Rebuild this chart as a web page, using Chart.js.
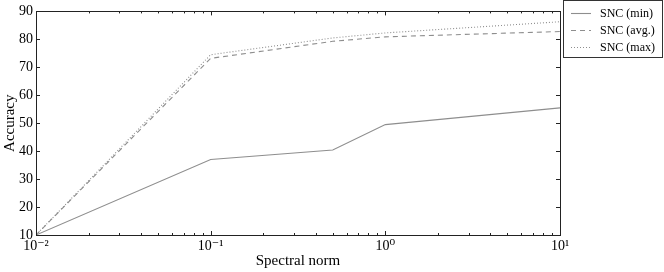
<!DOCTYPE html>
<html>
<head>
<meta charset="utf-8">
<script src="https://cdn.jsdelivr.net/npm/chart.js@4/dist/chart.umd.min.js"></script>
<style>
  html, body { margin: 0; padding: 0; background: #fff; }
  #wrap { width: 664px; height: 272px; }
</style>
</head>
<body>
<div id="wrap"><canvas id="chart" width="664" height="272"></canvas></div>
<script>
// values
const spectralNorm = [0.01, 0.1, 0.5, 1, 10];
const sncMin = [10, 37, 40.4, 49.5, 55.5];
const sncAvg = [10, 73.2, 79.3, 80.9, 82.8];
const sncMax = [10, 74.5, 80.5, 82.3, 86.3];
const seriesNames = ['SNC (min)', 'SNC (avg.)', 'SNC (max)'];
const xDecades = [0.01, 0.1, 1, 10];
const xTickLabels = ['10⁻²', '10⁻¹', '10⁰', '10¹'];

const serif = "'Liberation Serif', 'DejaVu Serif', serif";
const lineGray = '#8e8e8e';

const toPoints = vals => vals.map((v, i) => ({ x: spectralNorm[i], y: v }));

// inward ticks on all four sides + frame (matplotlib classic look)
const frameTicks = {
  id: 'frameTicks',
  afterDraw(chart) {
    const { ctx, chartArea: a, scales: { x, y } } = chart;
    ctx.save();
    ctx.strokeStyle = '#222';
    ctx.lineWidth = 1;
    const seg = (x1, y1, x2, y2) => { ctx.beginPath(); ctx.moveTo(x1, y1); ctx.lineTo(x2, y2); ctx.stroke(); };
    for (let e = -2; e <= 1; e++) {
      for (let m = 1; m <= 9; m++) {
        const v = m * Math.pow(10, e);
        if (v > 10.0001) break;
        const px = Math.round(x.getPixelForValue(v)) + 0.5;
        const len = m === 1 ? 4 : 2;
        seg(px, a.bottom, px, a.bottom - len);
        seg(px, a.top, px, a.top + len);
      }
    }
    y.ticks.forEach(t => {
      const py = Math.round(y.getPixelForValue(t.value)) + 0.5;
      seg(a.left, py, a.left + 4, py);
      seg(a.right, py, a.right - 4, py);
    });
    ctx.strokeRect(Math.round(a.left) + 0.5, Math.round(a.top) + 0.5,
      Math.round(a.right - a.left), Math.round(a.bottom - a.top));
    ctx.restore();
  }
};

// legend box outside on the right
const sideLegend = {
  id: 'sideLegend',
  afterDraw(chart) {
    const { ctx } = chart;
    const bx = 563.5, by = 0.5, bw = 99, bh = 57;
    ctx.save();
    ctx.fillStyle = '#fff';
    ctx.fillRect(bx, by, bw, bh);
    ctx.strokeStyle = '#333';
    ctx.lineWidth = 1;
    ctx.strokeRect(bx, by, bw, bh);
    ctx.font = '12px ' + serif;
    ctx.textBaseline = 'middle';
    ctx.fillStyle = '#000';
    chart.data.datasets.forEach((ds, i) => {
      const cy = 13.5 + i * 17;
      ctx.strokeStyle = ds.borderColor;
      ctx.lineWidth = ds.borderWidth;
      ctx.setLineDash(ds.borderDash || []);
      ctx.beginPath(); ctx.moveTo(571, cy); ctx.lineTo(591, cy); ctx.stroke();
      ctx.setLineDash([]);
      ctx.fillText(ds.label, 600, cy);
    });
    ctx.restore();
  }
};

new Chart(document.getElementById('chart'), {
  type: 'line',
  data: {
    datasets: [
      { label: seriesNames[0], data: toPoints(sncMin), borderColor: lineGray, borderWidth: 1.1, borderDash: [] },
      { label: seriesNames[1], data: toPoints(sncAvg), borderColor: lineGray, borderWidth: 1.1, borderDash: [5, 4] },
      { label: seriesNames[2], data: toPoints(sncMax), borderColor: lineGray, borderWidth: 1.1, borderDash: [1, 2] }
    ]
  },
  options: {
    responsive: false,
    animation: false,
    layout: { padding: { top: 10, right: 104, left: 0, bottom: 0 } },
    elements: { point: { radius: 0 }, line: { tension: 0 } },
    plugins: { legend: { display: false }, tooltip: { enabled: false } },
    scales: {
      x: {
        type: 'logarithmic',
        min: 0.01,
        max: 10,
        grid: { display: false, drawTicks: false },
        border: { display: false },
        afterBuildTicks: s => { s.ticks = xDecades.map(v => ({ value: v })); },
        afterFit: s => { s.height = 37; },
        ticks: {
          color: '#000',
          padding: 3,
          maxRotation: 0,
          autoSkip: false,
          font: { family: serif, size: 14 },
          callback: v => xTickLabels[xDecades.indexOf(v)] ?? ''
        },
        title: {
          display: true,
          text: 'Spectral norm',
          color: '#000',
          font: { family: serif, size: 15 },
          padding: { top: 0, bottom: 2 }
        }
      },
      y: {
        min: 10,
        max: 90,
        grid: { display: false, drawTicks: false },
        border: { display: false },
        afterFit: s => { s.width = 36; },
        ticks: {
          stepSize: 10,
          color: '#000',
          padding: 3,
          font: { family: serif, size: 14 }
        },
        title: {
          display: true,
          text: 'Accuracy',
          color: '#000',
          font: { family: serif, size: 15 },
          padding: { top: 1, bottom: 0 }
        }
      }
    }
  },
  plugins: [frameTicks, sideLegend]
});
</script>
</body>
</html>
